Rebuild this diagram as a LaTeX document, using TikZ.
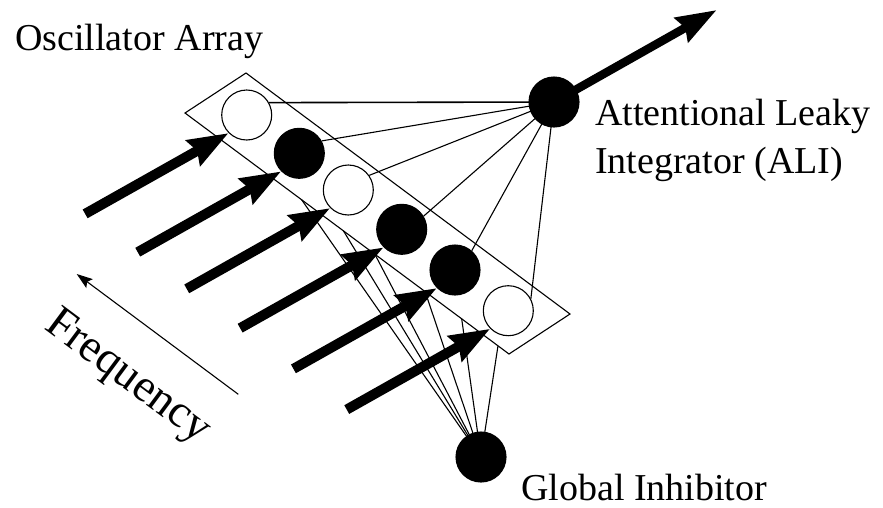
\documentclass[tikz,border=0pt]{standalone}
\usepackage{fontspec}
\setmainfont{Liberation Serif}
\usetikzlibrary{arrows.meta,calc}
\begin{document}
\begin{tikzpicture}[x=1pt,y=-1pt,
  osc/.style={circle,draw,line width=1.1pt,minimum size=50pt,inner sep=0pt},
  oscw/.style={osc,fill=white},
  oscb/.style={osc,fill=black},
  link/.style={line width=1.1pt},
  bigarrow/.style={line width=10pt,line cap=butt,-{Stealth[length=40pt,width=28pt,inset=4pt]}},
  outarrow/.style={line width=8.5pt,line cap=butt,-{Stealth[length=40pt,width=27pt,inset=4pt]}},
  thinarrow/.style={line width=1.1pt,-{Stealth[length=16pt,width=11pt,inset=3pt]}},
  lbl/.style={font=\fontsize{38}{44}\selectfont,inner sep=0pt,anchor=base west},
  freqlbl/.style={font=\fontsize{46}{52}\selectfont,inner sep=0pt,anchor=base west}
]
\useasboundingbox (0,0) rectangle (883,507);

% array box (parallelogram)
\coordinate (r1) at (185,113);
\coordinate (r2) at (246,73);
\coordinate (r3) at (570,314);
\coordinate (r4) at (509,354);
\draw[link] (r1) -- (r2) -- (r3) -- (r4) -- cycle;

% points on the lower edge for inhibitor links
\coordinate (b1) at ($(r1)!0.360!(r4)$);
\coordinate (b2) at ($(r1)!0.489!(r4)$);
\coordinate (b3) at ($(r1)!0.586!(r4)$);
\coordinate (b4) at ($(r1)!0.741!(r4)$);
\coordinate (b5) at ($(r1)!0.854!(r4)$);
\coordinate (b6) at ($(r1)!0.966!(r4)$);

% centres
\coordinate (pali) at (554,102);
\coordinate (pgi) at (481,457);

% oscillators
\node[oscw] (c1) at (246.7,115) {};
\node[oscb] (c2) at (299.3,153.3) {};
\node[oscw] (c3) at (348.3,190) {};
\node[oscb] (c4) at (401.7,229.3) {};
\node[oscb] (c5) at (455,270) {};
\node[oscw] (c6) at (508.3,310.7) {};

% links to ALI
\draw[line width=1.6pt] (c1.29) -- (pali);
\draw[link] (c2.29) -- (pali);
\draw[link] (c3.35) -- (pali);
\draw[link] (c4.31) -- (pali);
\draw[link] (c5.49) -- (pali);
\draw[link] (c6.28) -- (pali);

% links to global inhibitor
\foreach \i in {1,...,6}{\draw[link] (b\i) -- (pgi);}

% input arrows
\foreach \i in {1,...,6}{
  \draw[bigarrow] ($(c\i.225)+(-143.5,80.8)$) -- (c\i.225);
}

% ALI and GI
\node[oscb] (ali) at (pali) {};
\node[oscb] (gi) at (pgi) {};

% output arrow
\coordinate (out) at (716.7,10);
\draw[outarrow] (ali.center) -- (out);

% frequency arrow
\coordinate (ftail) at (238.3,394.3);
\coordinate (fhead) at (76.7,274);
\draw[thinarrow] (ftail) -- (fhead);

% labels
\node[lbl] (tosc) at (15,50) {Oscillator Array};
\node[lbl] (tali1) at (595,125) {Attentional Leaky};
\node[lbl] (tali2) at (595,173) {Integrator (ALI)};
\node[lbl] (tgi) at (521,500) {Global Inhibitor};
\node[freqlbl,rotate=-36.6] (tfreq) at (43,328) {Frequency};
\end{tikzpicture}
\end{document}
